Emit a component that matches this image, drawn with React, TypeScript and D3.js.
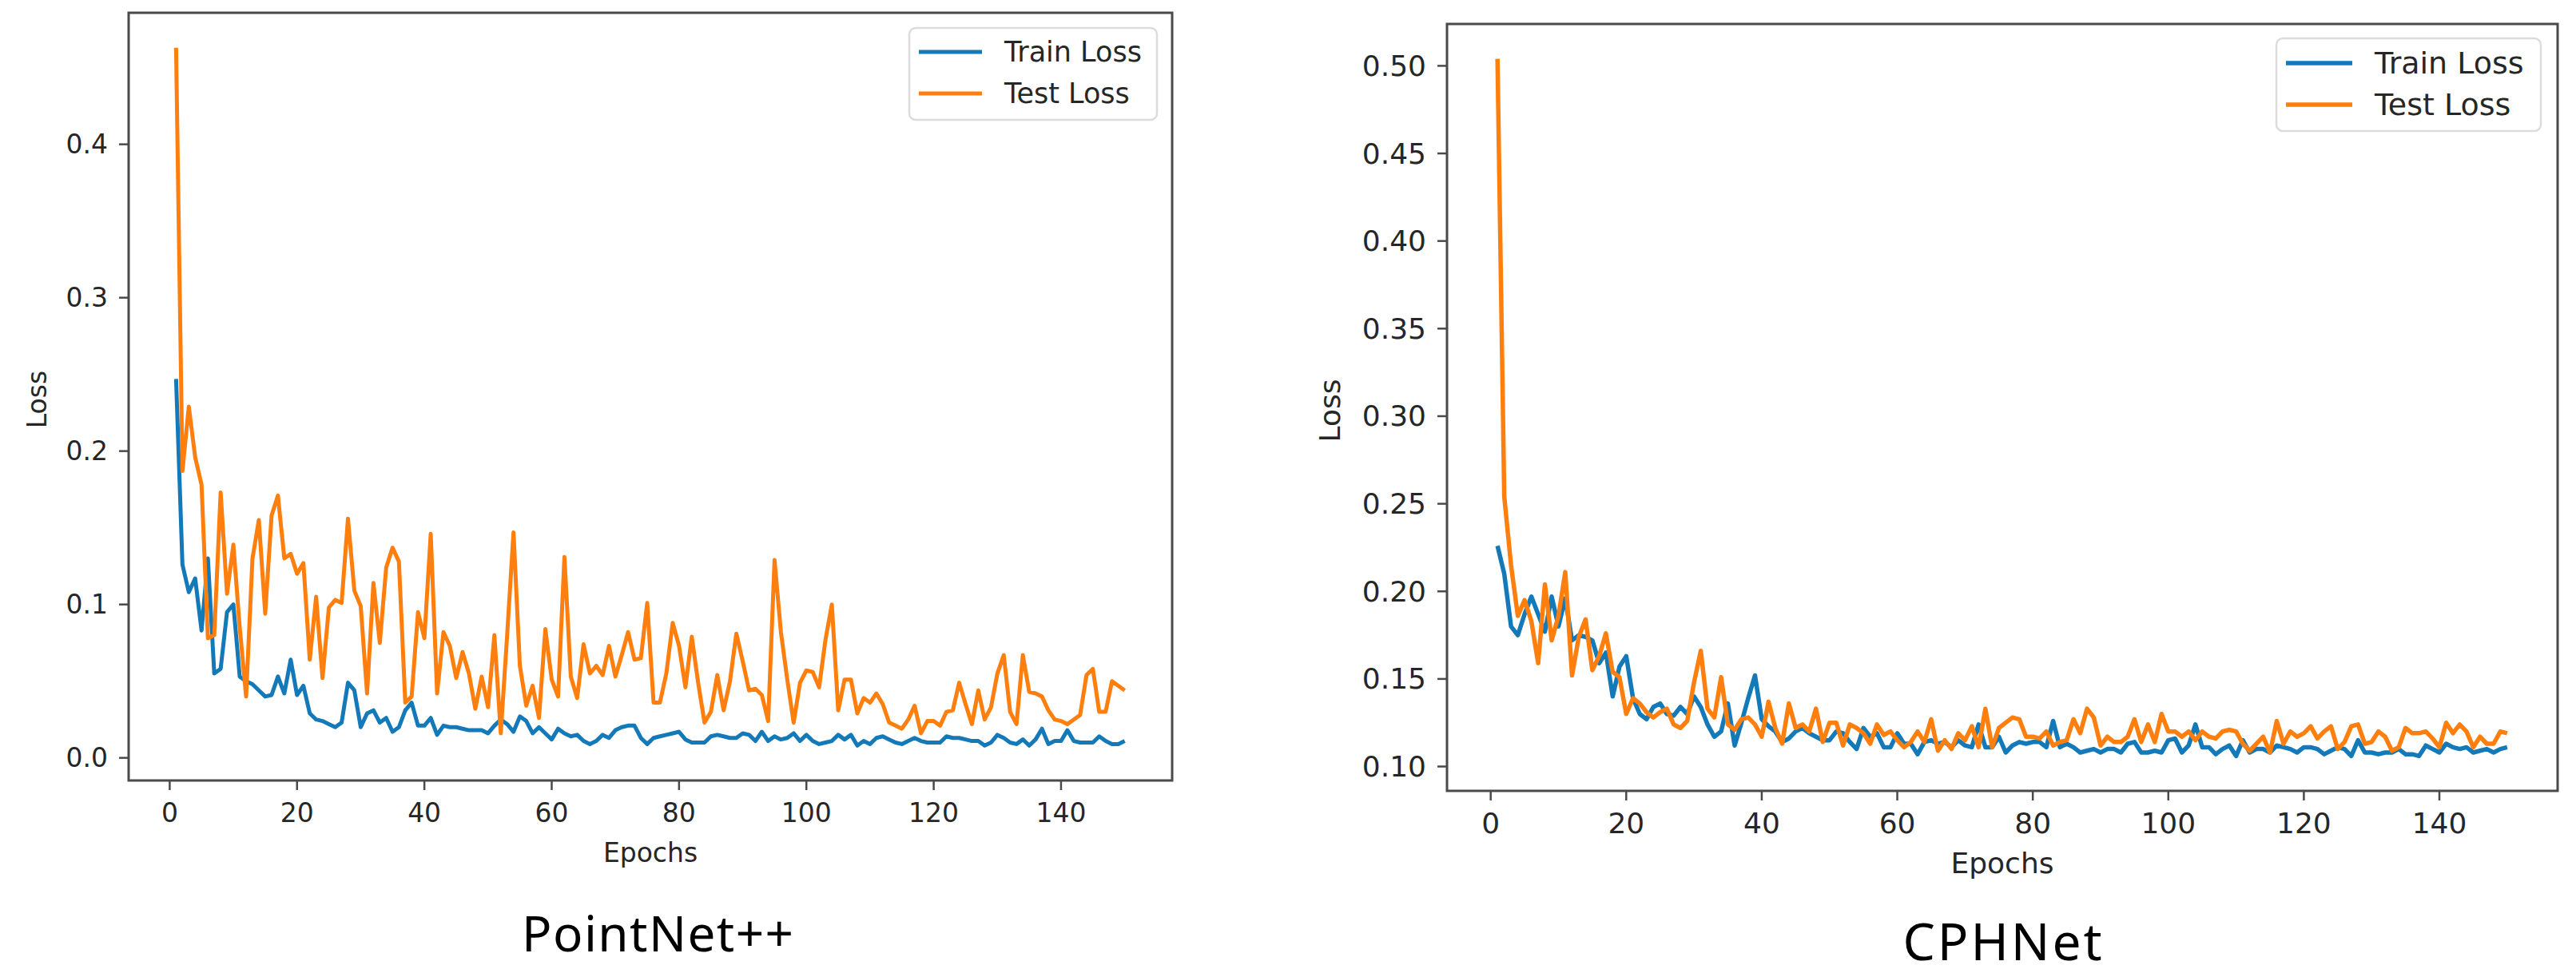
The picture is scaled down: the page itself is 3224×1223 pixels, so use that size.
import * as d3 from "d3";

// ---- PointNet++ (left panel) ----
const pointnetTrain = [
  0.247, 0.126, 0.108, 0.117, 0.083, 0.130, 0.055, 0.058, 0.095, 0.100,
  0.053, 0.050, 0.048, 0.044, 0.040, 0.041, 0.053, 0.042, 0.064, 0.041,
  0.047, 0.029, 0.025, 0.024, 0.022, 0.020, 0.023, 0.049, 0.044, 0.020,
  0.029, 0.031, 0.023, 0.026, 0.017, 0.020, 0.031, 0.036, 0.021, 0.021,
  0.026, 0.015, 0.021, 0.020, 0.020, 0.019, 0.018, 0.018, 0.018, 0.016,
  0.021, 0.025, 0.022, 0.017, 0.027, 0.024, 0.016, 0.020, 0.016, 0.012,
  0.019, 0.016, 0.014, 0.015, 0.011, 0.009, 0.011, 0.015, 0.013, 0.018,
  0.020, 0.021, 0.021, 0.013, 0.009, 0.013, 0.014, 0.015, 0.016, 0.017,
  0.012, 0.010, 0.010, 0.010, 0.014, 0.015, 0.014, 0.013, 0.013, 0.016,
  0.015, 0.011, 0.017, 0.011, 0.014, 0.012, 0.013, 0.016, 0.011, 0.015,
  0.011, 0.009, 0.010, 0.011, 0.015, 0.012, 0.015, 0.008, 0.011, 0.009,
  0.013, 0.014, 0.012, 0.010, 0.009, 0.011, 0.013, 0.011, 0.010, 0.010,
  0.010, 0.014, 0.013, 0.013, 0.012, 0.011, 0.011, 0.008, 0.010, 0.015,
  0.013, 0.010, 0.009, 0.012, 0.008, 0.012, 0.019, 0.009, 0.011, 0.011,
  0.018, 0.011, 0.010, 0.010, 0.010, 0.014, 0.011, 0.009, 0.009, 0.011,
];

const pointnetTest = [
  0.463, 0.187, 0.229, 0.196, 0.178, 0.078, 0.080, 0.173, 0.107, 0.139,
  0.085, 0.040, 0.130, 0.155, 0.094, 0.158, 0.171, 0.130, 0.133, 0.120,
  0.127, 0.064, 0.105, 0.052, 0.098, 0.103, 0.101, 0.156, 0.109, 0.099,
  0.042, 0.114, 0.075, 0.124, 0.137, 0.128, 0.036, 0.040, 0.095, 0.078,
  0.146, 0.042, 0.082, 0.073, 0.052, 0.069, 0.055, 0.032, 0.053, 0.033,
  0.080, 0.016, 0.080, 0.147, 0.060, 0.034, 0.047, 0.026, 0.084, 0.051,
  0.040, 0.131, 0.053, 0.039, 0.074, 0.055, 0.060, 0.054, 0.073, 0.053,
  0.067, 0.082, 0.064, 0.065, 0.101, 0.036, 0.036, 0.055, 0.088, 0.073,
  0.046, 0.079, 0.049, 0.023, 0.030, 0.054, 0.031, 0.050, 0.081, 0.063,
  0.044, 0.045, 0.041, 0.024, 0.129, 0.082, 0.051, 0.023, 0.049, 0.057,
  0.056, 0.046, 0.077, 0.100, 0.031, 0.051, 0.051, 0.029, 0.039, 0.036,
  0.042, 0.035, 0.023, 0.021, 0.019, 0.025, 0.034, 0.016, 0.024, 0.024,
  0.021, 0.030, 0.031, 0.049, 0.035, 0.022, 0.044, 0.025, 0.033, 0.055,
  0.067, 0.030, 0.022, 0.067, 0.043, 0.042, 0.040, 0.031, 0.025, 0.024,
  0.022, 0.025, 0.028, 0.054, 0.058, 0.030, 0.030, 0.050, 0.047, 0.044,
];

// ---- CPHNet (right panel) ----
const cphnetTrain = [
  0.226, 0.210, 0.180, 0.175, 0.187, 0.197, 0.187, 0.177, 0.197, 0.180,
  0.196, 0.172, 0.175, 0.174, 0.172, 0.159, 0.165, 0.140, 0.157, 0.163,
  0.139, 0.130, 0.127, 0.134, 0.136, 0.130, 0.129, 0.134, 0.130, 0.140,
  0.134, 0.124, 0.117, 0.120, 0.136, 0.112, 0.125, 0.139, 0.152, 0.127,
  0.123, 0.120, 0.114, 0.116, 0.120, 0.122, 0.119, 0.117, 0.115, 0.115,
  0.120, 0.119, 0.114, 0.110, 0.122, 0.117, 0.119, 0.111, 0.111, 0.119,
  0.113, 0.113, 0.107, 0.114, 0.115, 0.113, 0.114, 0.111, 0.115, 0.112,
  0.111, 0.124, 0.111, 0.111, 0.117, 0.108, 0.112, 0.114, 0.113, 0.114,
  0.114, 0.111, 0.126, 0.111, 0.113, 0.111, 0.108, 0.109, 0.110, 0.108,
  0.110, 0.110, 0.108, 0.113, 0.114, 0.108, 0.108, 0.109, 0.108, 0.115,
  0.116, 0.108, 0.112, 0.124, 0.111, 0.111, 0.107, 0.110, 0.112, 0.106,
  0.115, 0.108, 0.110, 0.110, 0.108, 0.112, 0.111, 0.110, 0.108, 0.111,
  0.111, 0.110, 0.107, 0.109, 0.111, 0.110, 0.106, 0.115, 0.108, 0.108,
  0.107, 0.108, 0.108, 0.110, 0.107, 0.107, 0.106, 0.112, 0.110, 0.108,
  0.113, 0.111, 0.110, 0.111, 0.108, 0.109, 0.110, 0.108, 0.110, 0.111,
];

const cphnetTest = [
  0.504, 0.254, 0.215, 0.186, 0.195, 0.183, 0.159, 0.204, 0.172, 0.186,
  0.211, 0.152, 0.174, 0.184, 0.155, 0.163, 0.176, 0.154, 0.151, 0.130,
  0.139, 0.136, 0.131, 0.128, 0.131, 0.133, 0.124, 0.122, 0.126, 0.148,
  0.166, 0.133, 0.128, 0.151, 0.124, 0.121, 0.127, 0.128, 0.124, 0.117,
  0.137, 0.122, 0.113, 0.136, 0.122, 0.124, 0.120, 0.133, 0.114, 0.125,
  0.125, 0.112, 0.124, 0.122, 0.119, 0.113, 0.124, 0.118, 0.120, 0.115,
  0.111, 0.114, 0.120, 0.114, 0.127, 0.109, 0.115, 0.110, 0.119, 0.115,
  0.123, 0.111, 0.133, 0.111, 0.122, 0.125, 0.128, 0.127, 0.117, 0.117,
  0.116, 0.120, 0.112, 0.114, 0.115, 0.127, 0.119, 0.133, 0.128, 0.112,
  0.117, 0.114, 0.114, 0.117, 0.127, 0.114, 0.124, 0.114, 0.130, 0.120,
  0.120, 0.117, 0.120, 0.115, 0.120, 0.117, 0.116, 0.120, 0.121, 0.120,
  0.113, 0.109, 0.113, 0.117, 0.108, 0.126, 0.113, 0.120, 0.117, 0.119,
  0.123, 0.116, 0.120, 0.123, 0.110, 0.114, 0.123, 0.124, 0.113, 0.114,
  0.120, 0.117, 0.109, 0.111, 0.122, 0.119, 0.119, 0.120, 0.116, 0.111,
  0.125, 0.119, 0.124, 0.120, 0.111, 0.117, 0.113, 0.113, 0.120, 0.119,
];

const xTicks = [0, 20, 40, 60, 80, 100, 120, 140];
const pointnetYTicks = [0.0, 0.1, 0.2, 0.3, 0.4];
const cphnetYTicks = [0.1, 0.15, 0.2, 0.25, 0.3, 0.35, 0.4, 0.45, 0.5];
const seriesNames = ["Train Loss", "Test Loss"];

const TRAIN_COLOR = "#1479b8";
const TEST_COLOR = "#ff7f0e";
const SPINE = "#4a4a4a";
const FONT = "DejaVu Sans, sans-serif";

type PanelProps = {
  train: number[];
  test: number[];
  yTicks: number[];
  yFormat: string;
  box: { x0: number; x1: number; y0: number; y1: number };
  font: number;
  lineWidth: number;
  legend: { x: number; y: number; w: number; h: number; row1: number; row2: number; lineLen: number };
  yLabel: { x: number; y: number };
  xLabelY: number;
  xTickY: number;
  title: { text: string; x: number; y: number; size: number; len: number };
};

function Panel(p: PanelProps) {
  const epochs = p.train.map((_, i) => i + 1);
  // matplotlib-style 5% margins
  const xExt = d3.extent(epochs) as [number, number];
  const xPad = (xExt[1] - xExt[0]) * 0.05;
  const all = p.train.concat(p.test);
  const yExt = d3.extent(all) as [number, number];
  const yPad = (yExt[1] - yExt[0]) * 0.05;

  const x = d3.scaleLinear().domain([xExt[0] - xPad, xExt[1] + xPad]).range([p.box.x0, p.box.x1]);
  const y = d3.scaleLinear().domain([yExt[0] - yPad, yExt[1] + yPad]).range([p.box.y1, p.box.y0]);

  const line = d3
    .line<number>()
    .x((_, i) => x(epochs[i]))
    .y((d) => y(d));

  const fmt = d3.format(p.yFormat);
  const tick = 12;
  const colors = [TRAIN_COLOR, TEST_COLOR];
  const lg = p.legend;

  return (
    <g>
      <rect x={p.box.x0} y={p.box.y0} width={p.box.x1 - p.box.x0} height={p.box.y1 - p.box.y0} fill="#fff" />
      <path d={line(p.train) ?? ""} fill="none" stroke={TRAIN_COLOR} strokeWidth={p.lineWidth} strokeLinejoin="round" />
      <path d={line(p.test) ?? ""} fill="none" stroke={TEST_COLOR} strokeWidth={p.lineWidth} strokeLinejoin="round" />
      <rect
        x={p.box.x0}
        y={p.box.y0}
        width={p.box.x1 - p.box.x0}
        height={p.box.y1 - p.box.y0}
        fill="none"
        stroke={SPINE}
        strokeWidth={3}
      />

      {/* y axis */}
      {p.yTicks.map((t) => (
        <g key={"y" + t}>
          <line x1={p.box.x0 - tick} x2={p.box.x0} y1={y(t)} y2={y(t)} stroke={SPINE} strokeWidth={2.5} />
          <text
            x={p.box.x0 - tick - 14}
            y={y(t)}
            textAnchor="end"
            dominantBaseline="central"
            fontSize={p.font}
            fontFamily={FONT}
            fill="#262626"
          >
            {fmt(t)}
          </text>
        </g>
      ))}

      {/* x axis */}
      {xTicks.map((t) => (
        <g key={"x" + t}>
          <line x1={x(t)} x2={x(t)} y1={p.box.y1} y2={p.box.y1 + tick} stroke={SPINE} strokeWidth={2.5} />
          <text
            x={x(t)}
            y={p.xTickY}
            textAnchor="middle"
            dominantBaseline="central"
            fontSize={p.font}
            fontFamily={FONT}
            fill="#262626"
          >
            {t}
          </text>
        </g>
      ))}

      <text
        x={(p.box.x0 + p.box.x1) / 2}
        y={p.xLabelY}
        textAnchor="middle"
        dominantBaseline="central"
        fontSize={p.font}
        fontFamily={FONT}
        fill="#262626"
      >
        Epochs
      </text>
      <text
        transform={`translate(${p.yLabel.x},${p.yLabel.y}) rotate(-90)`}
        textAnchor="middle"
        dominantBaseline="central"
        fontSize={p.font}
        fontFamily={FONT}
        fill="#262626"
      >
        Loss
      </text>

      {/* legend */}
      <rect x={lg.x} y={lg.y} width={lg.w} height={lg.h} rx={8} fill="#fff" fillOpacity={0.9} stroke="#dcdcdc" strokeWidth={2.5} />
      {seriesNames.map((name, i) => {
        const cy = i === 0 ? lg.row1 : lg.row2;
        return (
          <g key={name}>
            <line x1={lg.x + 12} x2={lg.x + 12 + lg.lineLen} y1={cy} y2={cy} stroke={colors[i]} strokeWidth={p.lineWidth} />
            <text
              x={lg.x + 12 + lg.lineLen + 28}
              y={cy}
              dominantBaseline="central"
              fontSize={p.font + 2}
              fontFamily={FONT}
              fill="#262626"
            >
              {name}
            </text>
          </g>
        );
      })}

      <text
        x={p.title.x}
        y={p.title.y}
        textAnchor="middle"
        fontSize={p.title.size}
        fontFamily="Noto Sans, Liberation Sans, sans-serif"
        fill="#000"
        textLength={p.title.len}
      >
        {p.title.text}
      </text>
    </g>
  );
}

export default function App() {
  return (
    <svg
      width={3224}
      height={1223}
      style={{ position: "absolute", left: 0, top: 0, background: "#fff" }}
    >
      <rect width={3224} height={1223} fill="#fff" />
      <Panel
        train={pointnetTrain}
        test={pointnetTest}
        yTicks={pointnetYTicks}
        yFormat=".1f"
        box={{ x0: 161, x1: 1467, y0: 16, y1: 977 }}
        font={33}
        lineWidth={5}
        legend={{ x: 1138, y: 35, w: 310, h: 115, row1: 65, row2: 117, lineLen: 79 }}
        yLabel={{ x: 46, y: 500 }}
        xLabelY={1067}
        xTickY={1017}
        title={{ text: "PointNet++", x: 823, y: 1191, size: 62, len: 340 }}
      />
      <Panel
        train={cphnetTrain}
        test={cphnetTest}
        yTicks={cphnetYTicks}
        yFormat=".2f"
        box={{ x0: 1811, x1: 3201, y0: 30, y1: 990 }}
        font={36}
        lineWidth={5.5}
        legend={{ x: 2849, y: 48, w: 331, h: 116, row1: 79, row2: 131, lineLen: 83 }}
        yLabel={{ x: 1664, y: 514 }}
        xLabelY={1080}
        xTickY={1030}
        title={{ text: "CPHNet", x: 2506, y: 1202, size: 64, len: 249 }}
      />
    </svg>
  );
}
